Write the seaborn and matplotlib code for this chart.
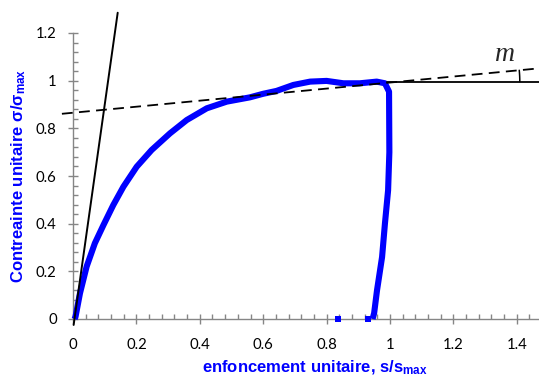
import numpy as np
import pandas as pd
import seaborn as sns
import matplotlib
matplotlib.use("Agg")
import matplotlib.pyplot as plt
from matplotlib.ticker import MultipleLocator, FuncFormatter

# ---- data ----
s_curve = [0.005, 0.008, 0.022, 0.043, 0.069, 0.096, 0.127, 0.159, 0.201, 0.248,
           0.306, 0.359, 0.422, 0.485, 0.558, 0.600, 0.642, 0.695, 0.748, 0.800,
           0.853, 0.905, 0.958, 0.984, 0.997, 0.998, 0.994, 0.984, 0.975, 0.959,
           0.950, 0.945]
sig_curve = [0.000, 0.010, 0.108, 0.220, 0.318, 0.394, 0.478, 0.555, 0.639, 0.709,
             0.779, 0.835, 0.884, 0.912, 0.930, 0.945, 0.957, 0.982, 0.996, 0.999,
             0.989, 0.989, 0.996, 0.989, 0.954, 0.700, 0.540, 0.400, 0.260, 0.120,
             0.025, 0.000]
s_zero = [0.835, 0.930]
sig_zero = [0.0, 0.0]

# initial tangent (solid)
s_tan = [0.002, 0.141]
sig_tan = [-0.025, 1.285]
# asymptote (dashed)
s_asym = [-0.035, 1.473]
sig_asym = [0.861, 1.052]
# horizontal reference
s_hor = [0.99, 1.47]
sig_hor = [0.996, 0.996]

sns.set_style("ticks")
plt.rcParams['font.family'] = ['Lato', 'DejaVu Sans']
plt.rcParams['mathtext.fontset'] = 'custom'
plt.rcParams['mathtext.rm'] = 'Liberation Sans'
plt.rcParams['mathtext.bf'] = 'Liberation Sans:bold'
plt.rcParams['mathtext.it'] = 'Liberation Sans:italic'

W, H = 539, 378
fig = plt.figure(figsize=(W / 100, H / 100), dpi=100)
ax = fig.add_axes([73 / W, 1 - 319 / H, (W - 73) / W, (319 - 33) / H])

blue = '#0000FF'
df = pd.DataFrame({'s': s_curve, 'sig': sig_curve})
sns.lineplot(data=df, x='s', y='sig', sort=False, estimator=None, ax=ax,
             color=blue, linewidth=4.4, solid_joinstyle='round',
             solid_capstyle='butt', clip_on=False, zorder=3)
sns.scatterplot(x=s_zero, y=sig_zero, ax=ax, color=blue, marker='s', s=20,
                edgecolor=blue, linewidth=0, clip_on=False, zorder=3)

sns.lineplot(x=s_tan, y=sig_tan, ax=ax, color='black', linewidth=1.4,
             sort=False, estimator=None, clip_on=False, zorder=4)
sns.lineplot(x=s_asym, y=sig_asym, ax=ax, color='black', linewidth=1.3,
             sort=False, estimator=None, clip_on=False, zorder=4,
             linestyle=(0, (6, 3.5)))
sns.lineplot(x=s_hor, y=sig_hor, ax=ax, color='black', linewidth=1.3,
             sort=False, estimator=None, clip_on=False, zorder=4)

ax.set_xlim(0, (W - 73) / 317)
ax.set_ylim(0, 1.2)

# angle arc between horizontal and dashed line
slope = (sig_asym[1] - sig_asym[0]) / (s_asym[1] - s_asym[0])
cx = (sig_hor[0] - sig_asym[0]) / slope + s_asym[0]
cy = sig_hor[0]
px_x = 317.0
px_y = (319 - 33) / 1.2
ang = np.arctan(slope * px_y / px_x)
r = 120
t = np.linspace(0, ang, 20)
ax.plot(cx + r * np.cos(t) / px_x, cy + r * np.sin(t) / px_y, color='black',
        lw=1.1, clip_on=False, zorder=4)

ax.text(1.363, 1.108, 'm', family='Liberation Serif', style='italic',
        fontsize=20, ha='center', va='center')

ax.xaxis.set_major_locator(MultipleLocator(0.2))
ax.xaxis.set_minor_locator(MultipleLocator(0.04))
ax.yaxis.set_major_locator(MultipleLocator(0.2))
ax.yaxis.set_minor_locator(MultipleLocator(0.04))
fmt = FuncFormatter(lambda v, p: '{:g}'.format(round(v, 2)))
ax.xaxis.set_major_formatter(fmt)
ax.yaxis.set_major_formatter(fmt)

gray = '#868686'
for side in ['top', 'right']:
    ax.spines[side].set_visible(False)
for side in ['left', 'bottom']:
    ax.spines[side].set_color(gray)
    ax.spines[side].set_linewidth(1.0)
ax.tick_params(which='major', direction='inout', length=7.5, width=1.0,
               color=gray, labelsize=10.7, labelcolor='black')
ax.tick_params(axis='x', which='major', pad=10)
ax.tick_params(axis='y', which='major', pad=8)
ax.tick_params(which='minor', direction='in', length=3.5, width=1.0, color=gray)

lab_font = dict(family=['Liberation Sans', 'DejaVu Sans'], fontsize=12,
                fontweight='bold', color=blue)
ax.set_xlabel(r'enfoncement unitaire, s/s$_{\mathbf{max}}$', **lab_font)
ax.set_ylabel(r'Contreainte unitaire σ/σ$_{\mathbf{max}}$', **lab_font)
ax.xaxis.set_label_coords(0.519, -0.14)
ax.yaxis.set_label_coords(-0.097, 0.5)
ax.set_facecolor('white')
fig.patch.set_facecolor('white')

fig.savefig('out.png', dpi=100)
